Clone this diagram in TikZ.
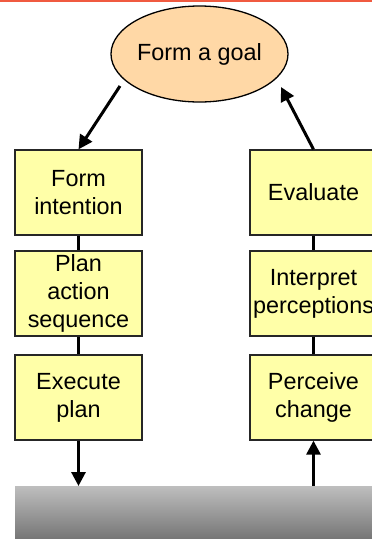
\documentclass[tikz,border=0pt]{standalone}
\usepackage{fontspec}
\setmainfont{Liberation Sans}
\usetikzlibrary{arrows.meta,shapes.geometric}
\definecolor{goalfill}{HTML}{FFD8A6}
\definecolor{boxfill}{HTML}{FFFFA8}
\definecolor{topred}{HTML}{F05A40}
\definecolor{gtop}{HTML}{BEBEBE}
\definecolor{gbot}{HTML}{5E5E5E}
\tikzset{
  stagebox/.style={draw=black!85, line width=1.3pt, fill=boxfill, rectangle,
    minimum width=127pt, minimum height=85pt, inner sep=0pt, align=center,
    font=\fontsize{23.4}{28}\selectfont},
  goalnode/.style={draw=black, line width=1.3pt, fill=goalfill, ellipse,
    minimum width=177pt, minimum height=96pt, inner sep=0pt,
    font=\fontsize{23.4}{28}\selectfont},
  link/.style={line width=3pt, draw=black},
  flow/.style={line width=3pt, draw=black, -{Triangle[length=14pt,width=14pt]}}
}
\begin{document}
\begin{tikzpicture}[x=1pt,y=-1pt]
\useasboundingbox (0,0) rectangle (372,539);
\clip (0,0) rectangle (372,539);
\fill[white] (0,0) rectangle (372,539);
% top red rule
\fill[topred] (0,0) rectangle (372,2);
% goal
\node[goalnode] (goal) at (199.5,54) {Form a goal};
% left column
\node[stagebox] (fi) at (78.5,192.5) {Form\\intention};
\node[stagebox] (pa) at (78.5,293.5) {Plan\\action\\sequence};
\node[stagebox] (ex) at (78.5,397.5) {Execute\\plan};
% right column
\node[stagebox] (ev) at (313.5,192.5) {Evaluate};
\node[stagebox] (ip) at (313.5,293.5) {Interpret\\perceptions};
\node[stagebox] (pc) at (313.5,397.5) {Perceive\\change};
% ground
\node[rectangle, inner sep=0pt, minimum width=370pt, minimum height=70pt,
  anchor=north west, top color=gtop, bottom color=gbot] (ground) at (15,486) {};
% connectors
\coordinate (gl) at (120,86);
\coordinate (gr) at (281,87);
\draw[flow] (gl) -- (fi.north);
\draw[flow] (ev.north) -- (gr);
\draw[link] (fi) -- (pa);
\draw[link] (pa) -- (ex);
\draw[link] (ev) -- (ip);
\draw[link] (ip) -- (pc);
\draw[flow] (ex.south) -- (ex.south |- ground.north);
\draw[flow] (ground.north -| pc.south) -- (pc.south);
\end{tikzpicture}
\end{document}
